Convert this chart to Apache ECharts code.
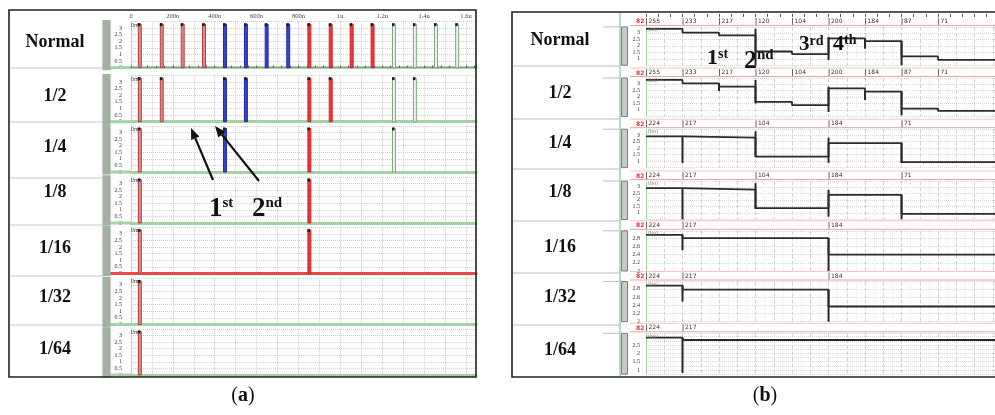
<!DOCTYPE html>
<html>
<head>
<meta charset="utf-8">
<script src="https://cdn.jsdelivr.net/npm/echarts@6/dist/echarts.min.js"></script>
<style>
  html, body { margin: 0; padding: 0; background: #fff; }
  #chart { width: 995px; height: 415px; }
</style>
</head>
<body>
<div id="chart"></div>
<script>
// ---- data ----
const rowNames = ['Normal', '1/2', '1/4', '1/8', '1/16', '1/32', '1/64']

// (a) pulse trains, times in ns
const pulseTimes = [42, 147, 247, 349, 449, 549, 648, 751, 852, 954, 1054, 1154, 1256, 1356, 1457, 1558]
const pulseGroup = [0, 0, 0, 0, 1, 1, 1, 1, 2, 2, 2, 2, 3, 3, 3, 3]
const keptPulses = [
    [0, 1, 2, 3, 4, 5, 6, 7, 8, 9, 10, 11, 12, 13, 14, 15],
    [0, 1, 4, 5, 8, 9, 12, 13],
    [0, 4, 8, 12],
    [0, 8],
    [0, 8],
    [0],
    [0]
]
const pulseHighV = 3.3
const pulseWidthNs = 14
const rulerLabelsA = ['0', '200n', '400n', '600n', '800n', '1u', '1.2u', '1.4u', '1.6u']
const yLabelsA = [0, 0.5, 1, 1.5, 2, 2.5, 3]

// (b) stepped output, slot index -> code / level (V)
const slotStarts = [
    [0, 1, 2, 3, 4, 5, 6, 7, 8],
    [0, 1, 2, 3, 4, 5, 6, 7, 8],
    [0, 1, 3, 5, 7],
    [0, 1, 3, 5, 7],
    [0, 1, 5],
    [0, 1, 5],
    [0, 1]
]
const codes = [
    [255, 233, 217, 120, 104, 200, 184, 87, 71],
    [255, 233, 217, 120, 104, 200, 184, 87, 71],
    [224, 217, 104, 184, 71],
    [224, 217, 104, 184, 71],
    [224, 217, 184],
    [224, 217, 184],
    [224, 217]
]
const levels = [
    [3.30, 3.01, 2.80, 1.56, 1.36, 2.57, 2.36, 1.18, 0.92],
    [3.30, 3.04, 2.78, 1.62, 1.36, 2.65, 2.40, 1.10, 0.92],
    [2.90, 2.81, 1.35, 2.38, 0.92],
    [2.90, 2.78, 1.36, 2.38, 0.92],
    [2.88, 2.80, 2.40],
    [2.88, 2.78, 2.37],
    [2.94, 2.80]
]
// glitches at transitions: [slot, top V, bottom V]
const spikes = [
    [[3, 3.30, 0.5], [5, 2.67, 0.9], [6, 2.53, 1.77], [7, 2.36, 0.5]],
    [[2, 3.04, 2.45], [3, 3.30, 1.49], [5, 2.78, 0.84], [6, 2.45, 1.75], [7, 2.40, 0.59]],
    [[1, 2.90, 0.84], [3, 3.29, 1.35], [5, 2.80, 0.86], [7, 2.41, 0.86]],
    [[1, 2.90, 0.5], [3, 3.28, 1.30], [5, 2.77, 0.71], [7, 2.38, 0.51]],
    [[1, 2.88, 2.51], [5, 2.80, 2.0]],
    [[1, 2.88, 2.49], [5, 2.78, 2.0]],
    [[1, 2.94, 0.82]]
]
const bTickLabels = [
    [1, 1.5, 2, 2.5, 3], [1, 1.5, 2, 2.5, 3], [1, 1.5, 2, 2.5, 3], [1, 1.5, 2, 2.5, 3],
    [2, 2.2, 2.4, 2.6, 2.8], [2, 2.2, 2.4, 2.6, 2.8],
    [1, 1.5, 2, 2.5]
]

// ---- layout ----
const serif = '"Liberation Serif", "DejaVu Serif", serif'
const aZero = [67.7, 121.7, 172, 223, 273.5, 324.5, 375]
const aH = 46.2
const aLeft = 131, aWidth = 345, aMaxNs = 1648
const bTop = [26.9, 78, 129.2, 181, 230.8, 281.5, 333.3]
const bH = [38.4, 38.4, 38.4, 38.4, 40.2, 40.2, 40.9]
const bMin = [0.5, 0.5, 0.5, 0.5, 2, 2, 0.75]
const bMax = [3.45, 3.45, 3.45, 3.45, 2.98, 2.98, 3.2]
const bInt = [0.5, 0.5, 0.5, 0.5, 0.2, 0.2, 0.25]
const bLeft = 646, bWidth = 349, bMaxSlot = 9.56
const aLabelY = [42, 96, 147, 192, 248, 297, 349]
const bLabelY = [40, 93, 143, 192, 247, 297, 350]
const pulseFill = ['#e08a8a', '#3542d6', '#ee3a3a', '#eef6ee']
const pulseStroke = ['#b23c3c', '#2328a8', '#cf2222', '#78a878']

let chartInstance = echarts.init(document.getElementById('chart'), null, { renderer: 'canvas' })

function renderPulse(params, api){
    const t = api.value(0), g = api.value(1)
    const a = api.coord([t - pulseWidthNs / 2, 0])
    const b = api.coord([t + pulseWidthNs / 2, pulseHighV])
    return {
        type: 'group',
        children: [
            { type: 'rect', shape: { x: a[0], y: b[1], width: b[0] - a[0], height: a[1] - b[1] },
              style: { fill: pulseFill[g], stroke: pulseStroke[g], lineWidth: 1 } },
            { type: 'rect', shape: { x: a[0] - 0.5, y: b[1] - 1, width: 2.5, height: 3 }, style: { fill: '#1d1d1d' } }
        ]
    }
}

function renderSpike(params, api){
    const p0 = api.coord([api.value(0), api.value(1)])
    const p1 = api.coord([api.value(0), api.value(2)])
    return { type: 'line', shape: { x1: p0[0], y1: p0[1], x2: p1[0], y2: p1[1] },
             style: { stroke: '#262626', lineWidth: 2 } }
}

function makeTagRenderer(row){
    return function(params, api){
        const p = api.coord([api.value(0), bMax[row]])
        return {
            type: 'group',
            children: [
                { type: 'line', shape: { x1: p[0] + 0.5, y1: p[1] - 9, x2: p[0] + 0.5, y2: p[1] - 2 },
                  style: { stroke: '#666', lineWidth: 1 } },
                { type: 'text', style: { x: p[0] + 2.5, y: p[1] - 5.5, text: String(api.value(1)),
                  font: '6px "DejaVu Sans", sans-serif', fill: '#333', verticalAlign: 'middle', textVerticalAlign: 'middle' } }
            ]
        }
    }
}

const grids = [], xAxes = [], yAxes = [], series = []

// panel (a)
rowNames.forEach((name, i) => {
    grids.push({ left: aLeft, top: aZero[i] - aH, width: aWidth, height: aH })
    xAxes.push({
        type: 'value', gridIndex: i, min: 0, max: aMaxNs, interval: 100,
        axisLine: { show: true, onZero: false, lineStyle: { color: i === 4 ? '#e94848' : '#a3d3a3', width: 3 } },
        axisTick: { show: false }, axisLabel: { show: false },
        splitLine: { show: true, lineStyle: { color: '#cdcdcd', type: 'dotted' } }
    })
    yAxes.push({
        type: 'value', gridIndex: i, min: 0, max: 3.5, interval: 0.5,
        axisLine: { show: true, lineStyle: { color: '#b0d6b0' } },
        axisTick: { show: false },
        axisLabel: { fontSize: 6, color: '#333', margin: 9, fontFamily: serif,
            formatter: v => yLabelsA.some(x => Math.abs(x - v) < 1e-6) ? String(v) : '' },
        splitLine: { show: true, lineStyle: { color: '#d0d0d0', type: 'dotted' } }
    })
    series.push({
        type: 'custom', xAxisIndex: i, yAxisIndex: i, silent: true,
        data: keptPulses[i].map(k => [pulseTimes[k], pulseGroup[k]]),
        renderItem: renderPulse
    })
})
// ruler of (a)
xAxes.push({
    type: 'value', gridIndex: 0, position: 'top', min: 0, max: aMaxNs, interval: 200, offset: 1,
    axisLine: { show: true, lineStyle: { color: '#9a9a9a', width: 1 } },
    axisTick: { show: true, length: 2, lineStyle: { color: '#555' } },
    minorTick: { show: true, splitNumber: 5, length: 2, lineStyle: { color: '#555' } },
    axisLabel: { fontSize: 6.5, color: '#444', margin: 1, fontFamily: serif,
        formatter: v => (v % 200 === 0 ? rulerLabelsA[v / 200] : '') },
    splitLine: { show: false }
})

// panel (b)
rowNames.forEach((name, i) => {
    const g = 7 + i, xi = 8 + i, yi = 7 + i
    grids.push({ left: bLeft, top: bTop[i], width: bWidth, height: bH[i] })
    xAxes.push({
        type: 'value', gridIndex: g, min: 0, max: bMaxSlot, interval: 0.5,
        axisLine: { show: false }, axisTick: { show: false }, axisLabel: { show: false },
        minorTick: { show: false, splitNumber: 2 },
        splitLine: { show: true, lineStyle: { color: '#d2d2d2', type: 'dashed' } },
        minorSplitLine: { show: true, lineStyle: { color: '#e9e9e9', type: 'dotted' } }
    })
    yAxes.push({
        type: 'value', gridIndex: g, min: bMin[i], max: bMax[i], interval: bInt[i],
        axisLine: { show: true, lineStyle: { color: '#a3d3a3' } },
        axisTick: { show: false },
        axisLabel: { fontSize: 6, color: '#333', margin: 6, fontFamily: serif,
            formatter: v => bTickLabels[i].some(x => Math.abs(x - v) < 1e-6) ? String(+v.toFixed(2)) : '' },
        splitLine: { show: true, lineStyle: { color: '#d6d6d6', type: 'dotted' } }
    })
    const steps = slotStarts[i].map((s, k) => [s, levels[i][k]])
    steps.push([bMaxSlot, levels[i][levels[i].length - 1]])
    series.push({
        type: 'line', step: 'end', xAxisIndex: xi, yAxisIndex: yi, symbol: 'none', silent: true,
        data: steps, lineStyle: { color: '#2b2b2b', width: 1.8 }
    })
    series.push({
        type: 'custom', xAxisIndex: xi, yAxisIndex: yi, silent: true,
        data: spikes[i], renderItem: renderSpike
    })
    series.push({
        type: 'custom', xAxisIndex: xi, yAxisIndex: yi, silent: true,
        data: slotStarts[i].map((s, k) => [s, codes[i][k]]), renderItem: makeTagRenderer(i)
    })
})
// ruler of (b)
xAxes.push({
    type: 'value', gridIndex: 7, position: 'top', min: 0, max: bMaxSlot, interval: 1, offset: 13,
    axisLine: { show: false },
    axisTick: { show: true, inside: true, length: 3, lineStyle: { color: '#555' } },
    minorTick: { show: true, splitNumber: 3, length: 3, lineStyle: { color: '#555' } },
    axisLabel: { show: false }, splitLine: { show: false }
})

// ---- decorations ----
const graphics = []
function gLine(x1, y1, x2, y2, color, w){
    graphics.push({ type: 'line', shape: { x1, y1, x2, y2 }, style: { stroke: color, lineWidth: w || 1 }, z: 5 })
}
function gText(x, y, text, font, fill, align){
    graphics.push({ type: 'text', x, y, z: 50,
        style: { text, font, fill: fill || '#111', textAlign: align || 'center', align: align || 'center',
                 textVerticalAlign: 'middle', verticalAlign: 'middle' } })
}
function gSup(x, y, main, sup, big, small){
    graphics.push({ type: 'text', x, y, z: 60,
        style: { text: '{n|' + main + '}{s|' + sup + '}', textAlign: 'left', align: 'left',
                 textVerticalAlign: 'bottom', verticalAlign: 'bottom',
                 rich: {
                     n: { fontSize: big, fontWeight: 'bold', fontFamily: serif, fill: '#111', color: '#111' },
                     s: { fontSize: small, fontWeight: 'bold', fontFamily: serif, fill: '#111', color: '#111', verticalAlign: 'top' }
                 } } })
}
function gArrow(x1, y1, x2, y2){
    const ang = Math.atan2(y2 - y1, x2 - x1), L = 11, W = 4.5
    const bx = x2 - L * Math.cos(ang), by = y2 - L * Math.sin(ang)
    gLine(x1, y1, bx, by, '#111', 2.2)
    graphics.push({ type: 'polygon', z: 60, shape: { points: [
        [x2, y2],
        [bx + W * Math.sin(ang), by - W * Math.cos(ang)],
        [bx - W * Math.sin(ang), by + W * Math.cos(ang)]
    ] }, style: { fill: '#111' } })
}

// frames
graphics.push({ type: 'rect', z: 40, shape: { x: 9, y: 10, width: 467, height: 367 }, style: { fill: 'none', stroke: '#222', lineWidth: 1.6 } })
graphics.push({ type: 'rect', z: 40, shape: { x: 512, y: 12, width: 500, height: 365 }, style: { fill: 'none', stroke: '#222', lineWidth: 1.6 } })

// panel (a) label column
;[68, 122, 178, 225, 276, 325].forEach(y => gLine(10, y, 103, y, '#c6c6c6', 1))
rowNames.forEach((name, i) => {
    gText(55, aLabelY[i], name, 'bold 18px ' + serif)
    const top = aZero[i] - aH
    graphics.push({ type: 'rect', z: 6, shape: { x: 103, y: top - 1, width: 7, height: aH + 3 },
        style: { fill: '#ababab', stroke: '#8fbf8f', lineWidth: 1.2 } })
    gLine(110, aZero[i], aLeft, aZero[i], i === 4 ? '#e94848' : '#a3d3a3', 3)
    gText(131, top + 3.5, '0m', '6px ' + serif, '#444', 'left')
})

// panel (b) label column
gLine(620, 12, 620, 377, '#8cc48c', 1.2)
;[66, 119, 169, 221, 273, 325].forEach(y => gLine(513, y, 620, y, '#bdbdbd', 1))
rowNames.forEach((name, i) => {
    gText(560, bLabelY[i], name, 'bold 18px ' + serif)
    gLine(603, bTop[i], 620, bTop[i], '#bdbdbd', 1)
    graphics.push({ type: 'rect', z: 6, shape: { x: 621.5, y: bTop[i], width: 6, height: bH[i] },
        style: { fill: '#c9c9c9', stroke: '#7a7a7a', lineWidth: 1 } })
    gLine(630, bTop[i] - 1.5, 995, bTop[i] - 1.5, '#e6a3a3', 1)
    if (i > 0) gLine(630, bTop[i] - 10, 995, bTop[i] - 10, '#f0c4c4', 1)
    gText(636, bTop[i] - 5, '82', 'bold 6px "DejaVu Sans", sans-serif', '#e03030', 'left')
    gText(648, bTop[i] + 3, '(bn)', '5px "DejaVu Sans", sans-serif', '#777', 'left')
})

// annotations
gArrow(213, 180, 191, 128)
gArrow(259, 181, 215, 126)
gSup(209, 223, '1', 'st', 27, 15)
gSup(252, 223, '2', 'nd', 27, 15)
gSup(707, 69, '1', 'st', 22, 14)
gSup(744, 74, '2', 'nd', 26, 15)
gSup(799, 55, '3', 'rd', 21, 14)
gSup(833, 55, '4', 'th', 22, 14)

// captions
graphics.push({ type: 'text', x: 243, y: 396, z: 60, style: { text: '({b|a})', textAlign: 'center', align: 'center',
    textVerticalAlign: 'middle', verticalAlign: 'middle', font: '20px ' + serif, fill: '#111',
    rich: { b: { fontSize: 20, fontWeight: 'bold', fontFamily: serif, fill: '#111', color: '#111' } } } })
graphics.push({ type: 'text', x: 765, y: 396, z: 60, style: { text: '({b|b})', textAlign: 'center', align: 'center',
    textVerticalAlign: 'middle', verticalAlign: 'middle', font: '20px ' + serif, fill: '#111',
    rich: { b: { fontSize: 20, fontWeight: 'bold', fontFamily: serif, fill: '#111', color: '#111' } } } })

chartInstance.setOption({
    animation: false,
    backgroundColor: '#ffffff',
    grid: grids,
    xAxis: xAxes,
    yAxis: yAxes,
    series: series,
    graphic: { elements: graphics }
})
</script>
</body>
</html>
